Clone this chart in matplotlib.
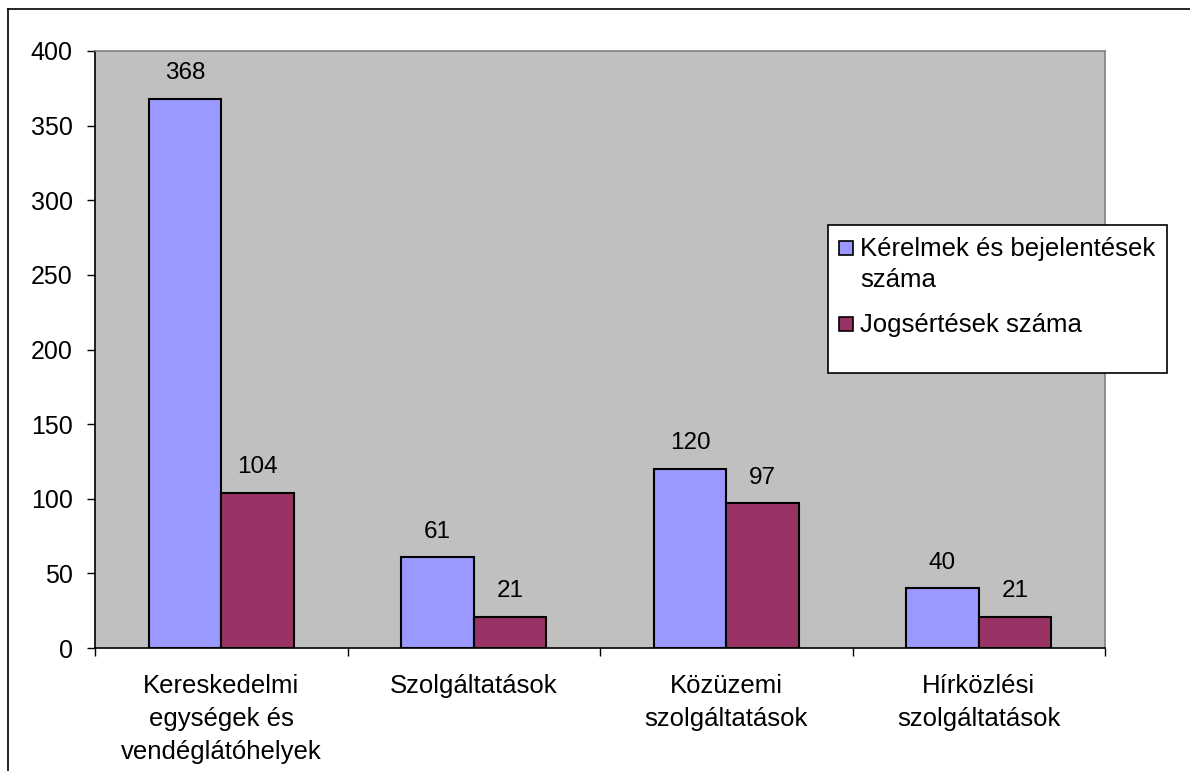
import matplotlib
matplotlib.use("Agg")
import matplotlib.pyplot as plt
from matplotlib.lines import Line2D
from matplotlib.patches import Rectangle
import numpy as np

plt.rcParams['font.family'] = ['Liberation Sans', 'DejaVu Sans']

categories = ["Kereskedelmi\negységek és\nvendéglátóhelyek", "Szolgáltatások",
              "Közüzemi\nszolgáltatások", "Hírközlési\nszolgáltatások"]
kerelmek = [368, 61, 120, 40]
jogsertesek = [104, 21, 97, 21]
series_names = ["Kérelmek és bejelentések\nszáma", "Jogsértések száma"]
colors = ["#9999FF", "#993366"]

FS = 17.5
W, H = 1190, 771

fig = plt.figure(figsize=(11.9, 7.71), dpi=100)
ax = fig.add_axes([95 / W, 1 - 648 / H, 1010 / W, 597 / H])
ax.set_facecolor("#C0C0C0")

x = np.arange(len(categories))
w = 0.287
b1 = ax.bar(x - w / 2, kerelmek, w, color=colors[0], edgecolor="black", linewidth=1.5)
b2 = ax.bar(x + w / 2, jogsertesek, w, color=colors[1], edgecolor="black", linewidth=1.5)

for bars, vals in [(b1, kerelmek), (b2, jogsertesek)]:
    for bar, v in zip(bars, vals):
        ax.text(bar.get_x() + bar.get_width() / 2, v + 13, str(v),
                ha="center", va="baseline", fontsize=FS)

ax.set_xlim(-0.5, len(categories) - 0.5)
ax.set_ylim(0, 400)
ax.set_yticks(range(0, 401, 50))
ax.tick_params(axis="y", labelsize=FS + 0.5, length=6, width=1, direction="out", pad=10)

# category labels centred, ticks at the boundaries
ax.set_xticks(np.arange(-0.5, len(categories), 1.0))
ax.set_xticklabels([])
ax.tick_params(axis="x", length=6, width=1, direction="out")
ax.set_xticks(x, minor=True)
ax.set_xticklabels(categories, minor=True, fontsize=18.5, linespacing=1.47)
ax.tick_params(axis="x", which="minor", length=0, pad=19)

for s in ["top", "right"]:
    ax.spines[s].set_color("#808080")
    ax.spines[s].set_linewidth(1.2)
for s in ["left", "bottom"]:
    ax.spines[s].set_color("black")
    ax.spines[s].set_linewidth(1.2)

# legend drawn by hand (box has empty space at the bottom, marker sits on first line)
fig.add_artist(Rectangle((828 / W, 1 - 373 / H), (1167 - 828) / W, (373 - 225) / H,
                         transform=fig.transFigure, facecolor="white",
                         edgecolor="black", linewidth=1.2, zorder=5))
entry_y = [256, 332]
for name, c, yb in zip(series_names, colors, entry_y):
    fig.add_artist(Rectangle((839 / W, 1 - (yb - 1) / H), 14 / W, 14 / H,
                             transform=fig.transFigure, facecolor=c,
                             edgecolor="black", linewidth=1.2, zorder=6))
    fig.text(860 / W, 1 - yb / H, name.split("\n")[0], fontsize=18.5,
             ha="left", va="baseline", zorder=7)
    if "\n" in name:
        fig.text(860 / W, 1 - (yb + 31) / H, name.split("\n")[1], fontsize=18.5,
                 ha="left", va="baseline", zorder=7)

# outer chart border (left and top only visible)
fig.add_artist(Line2D([8 / W, 8 / W], [0, 1 - 9 / H], color="black", lw=1.2))
fig.add_artist(Line2D([8 / W, 1], [1 - 9 / H, 1 - 9 / H], color="black", lw=1.2))

fig.savefig("out.png", dpi=100)
